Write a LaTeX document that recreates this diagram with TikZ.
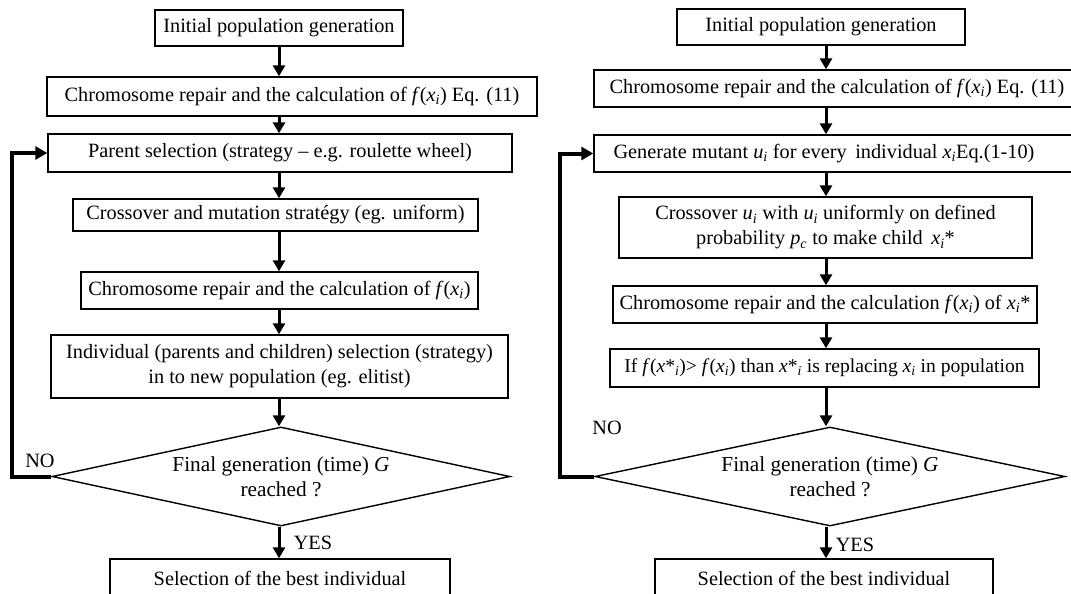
\documentclass[tikz,border=0pt]{standalone}
\usepackage{fontspec}
\setmainfont{Liberation Serif}
\usetikzlibrary{arrows.meta,shapes.geometric}
\newcommand{\iv}[1]{\textit{#1}}
\newcommand{\subi}{\textsubscript{\iv{i}}}
\newcommand{\fxi}{\iv{f}(\iv{x}\subi)}
\newcommand{\xsi}{\iv{x}\subi}
\newcommand{\usi}{\iv{u}\subi}
\begin{document}
\begin{tikzpicture}[x=1pt,y=-1pt,
  txt/.style={font=\fontsize{20.3}{25}\selectfont},
  box/.style={txt,draw,line width=1.4pt,inner sep=0pt,align=center},
  dec/.style={draw,diamond,line width=1.4pt,inner sep=0pt,align=center,shape aspect=4.6,font=\fontsize{21.3}{25}\selectfont},
  arr/.style={line width=3pt,-{Triangle[width=12pt,length=11pt]}},
  fb/.style={line width=4pt,-{Triangle[width=13pt,length=12pt]}},
  lbl/.style={txt,inner sep=0pt}]
\useasboundingbox (0,0) rectangle (1071,594);
% left column
\coordinate (colL) at (279,0);
\node[box,minimum width=248,minimum height=36] (L1) at (279,28) {Initial population generation};
\node[box,minimum width=490,minimum height=39] (L2) at (292,96.5) {Chromosome repair and the calculation of \fxi{} Eq. (11)};
\node[box,minimum width=464,minimum height=38] (L3) at (280,153) {Parent selection (strategy – e.g. roulette wheel)};
\node[box,minimum width=405,minimum height=32] (L4) at (275.5,215) {Crossover and mutation stratégy (eg. uniform)};
\node[box,minimum width=397,minimum height=37] (L5) at (279.5,290.5) {Chromosome repair and the calculation of \fxi};
\node[box,minimum width=457,minimum height=63] (L6) at (279.5,366.5) {Individual (parents and children) selection (strategy)\\in to new population (eg. elitist)};
\node[dec,minimum width=458,minimum height=99] (LD) at (281,476.5) {Final generation (time) \iv{G}\\reached ?};
\node[box,minimum width=340,minimum height=39] (L7) at (280,578.5) {Selection of the best individual};
\node[lbl] (LNO) at (40,461) {NO};
\node[lbl] (LYES) at (313,543) {YES};
\draw[arr] (L1.south -| colL) -- (L2.north -| colL);
\draw[arr] (L2.south -| colL) -- (L3.north -| colL);
\draw[arr] (L3.south -| colL) -- (L4.north -| colL);
\draw[arr] (L4.south -| colL) -- (L5.north -| colL);
\draw[arr] (L5.south -| colL) -- (L6.north -| colL);
\draw[arr] (L6.south -| colL) -- (LD.north -| colL);
\draw[arr] (LD.south -| colL) -- (L7.north -| colL);
\coordinate (Lcorner) at (12,0);
\draw[fb] (LD.west) -- (LD.west -| Lcorner) |- (L3.west);
% right column
\coordinate (colR) at (826,0);
\node[box,minimum width=288,minimum height=36] (R1) at (821,27) {Initial population generation};
\node[box,minimum width=486,minimum height=37] (R2) at (837,88.5) {Chromosome repair and the calculation of \fxi{} Eq. (11)};
\node[box,minimum width=486,minimum height=37] (R3) at (837,153.5) {Generate mutant \usi{} for every\, individual \xsi{}Eq.(1-10)\hspace*{26pt}};
\node[box,minimum width=413,minimum height=61] (R4) at (825.5,227.5) {Crossover \usi{} with \usi{} uniformly on defined\\probability \iv{p}\textsubscript{\iv{c}} to make child\, \xsi*};
\node[box,minimum width=424,minimum height=37] (R5) at (825,304.5) {Chromosome repair and the calculation \fxi{} of \xsi*};
\node[box,minimum width=429,minimum height=38,font=\fontsize{19.6}{25}\selectfont] (R6) at (824.5,368) {If \iv{f}(\iv{x}*\subi)> \iv{f}(\xsi) than \iv{x}*\subi{} is replacing \xsi{} in population};
\node[dec,minimum width=470,minimum height=99] (RD) at (830,476.5) {Final generation (time) \iv{G}\\reached ?};
\node[box,minimum width=338,minimum height=39] (R7) at (824,578.5) {Selection of the best individual};
\node[lbl] (RNO) at (607,428) {NO};
\node[lbl] (RYES) at (855,545) {YES};
\draw[arr] (R1.south -| colR) -- (R2.north -| colR);
\draw[arr] (R2.south -| colR) -- (R3.north -| colR);
\draw[arr] (R3.south -| colR) -- (R4.north -| colR);
\draw[arr] (R4.south -| colR) -- (R5.north -| colR);
\draw[arr] (R5.south -| colR) -- (R6.north -| colR);
\draw[arr] (R6.south -| colR) -- (RD.north -| colR);
\draw[arr] (RD.south -| colR) -- (R7.north -| colR);
\coordinate (Rcorner) at (560,0);
\draw[fb] (RD.west) -- (RD.west -| Rcorner) |- (R3.west);
\end{tikzpicture}
\end{document}
